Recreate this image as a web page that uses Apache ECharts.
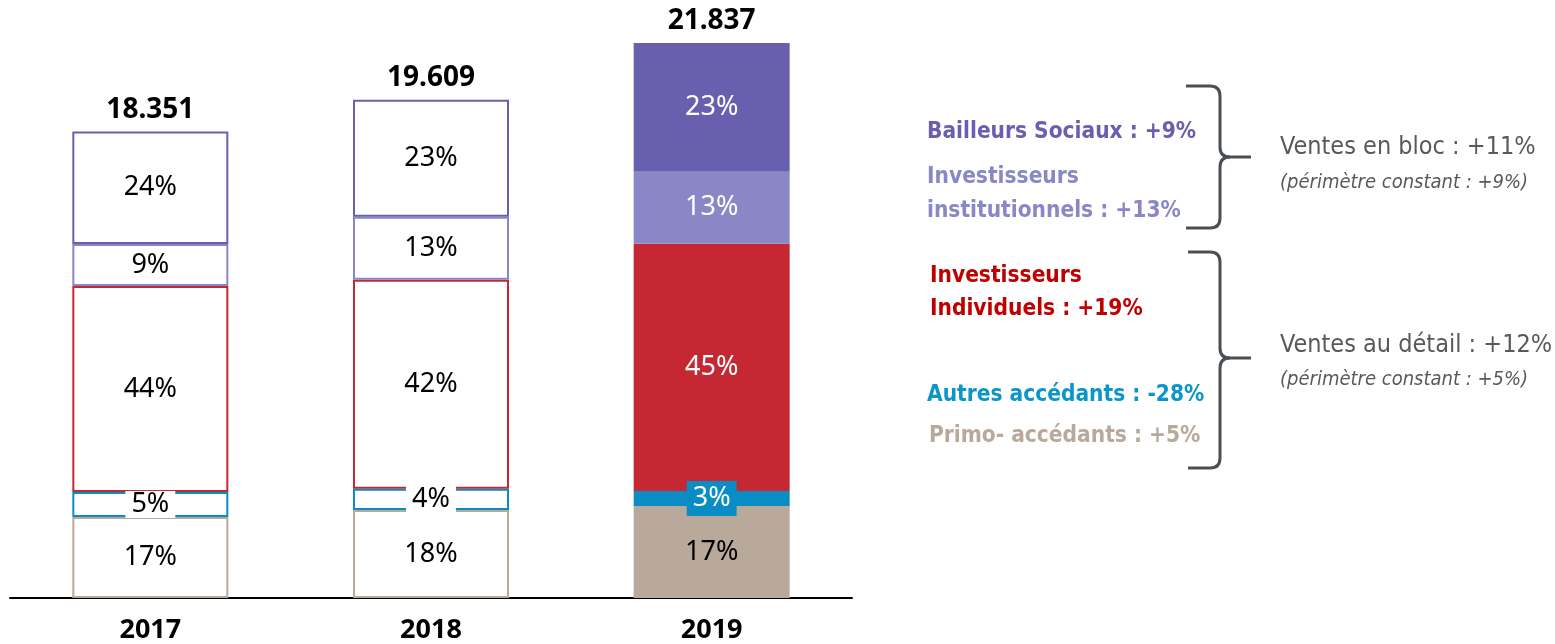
<!DOCTYPE html>
<html>
<head>
<meta charset="utf-8">
<script src="https://cdn.jsdelivr.net/npm/echarts@6/dist/echarts.min.js"></script>
<style>
  html, body { margin: 0; padding: 0; background: #fff; }
  #chart { width: 1555px; height: 644px; }
</style>
</head>
<body>
<div id="chart"></div>
<script>
  // catégories et valeurs (nombre de ventes)
  const years = ['2017', '2018', '2019'];
  const primo = [3190, 3465, 3620];
  const autres = [980, 830, 590];
  const individuels = [8110, 8230, 9725];
  const institutionnels = [1650, 2480, 2835];
  const bailleurs = [4421, 4604, 5067];

  const colors = ['#B8A99A', '#0A8CC4', '#C62833', '#8A87C6', '#6860AE'];
  const labelColors2019 = ['#000', '#fff', '#fff', '#fff', '#fff'];
  const seriesData = [primo, autres, individuels, institutionnels, bailleurs];
  const seriesNames = ['Primo-accédants', 'Autres accédants', 'Investisseurs individuels', 'Investisseurs institutionnels', 'Bailleurs sociaux'];

  const totals = years.map((y, i) => seriesData.reduce((s, arr) => s + arr[i], 0));
  const fmt = n => String(n).replace(/\B(?=(\d{3})+(?!\d))/g, '.');

  const font = '"Noto Sans", sans-serif';
  const narrow = '"Liberation Sans Narrow", "DejaVu Sans Condensed", sans-serif';

  let series = [];
  seriesData.forEach((arr, k) => {
    series.push({
      name: seriesNames[k],
      type: 'bar',
      stack: 'total',
      barWidth: 156,
      data: arr.map((v, i) => {
        let filled = i === 2;
        let item = {
          value: v,
          itemStyle: filled
            ? { color: colors[k], borderWidth: 0 }
            : { color: '#fff', borderColor: colors[k], borderWidth: 2 },
          label: { color: filled ? labelColors2019[k] : '#000' }
        };
        // petits segments : étiquette avec fond
        if (k === 1) {
          item.label.backgroundColor = filled ? colors[k] : '#fff';
          item.label.padding = filled ? [4, 6, 4, 6] : [0, 6, 0, 6];
        }
        return item;
      }),
      label: {
        show: true,
        position: 'inside',
        fontFamily: font,
        fontSize: 27,
        formatter: p => Math.round(p.value / totals[p.dataIndex] * 100) + '%'
      }
    });
  });

  // totaux au-dessus des barres
  series.push({
    type: 'scatter',
    data: totals,
    symbolSize: 0,
    itemStyle: { opacity: 1 },
    label: {
      show: true,
      position: 'top',
      distance: 8,
      fontFamily: font,
      fontWeight: 'bold',
      fontSize: 28,
      color: '#000',
      formatter: p => fmt(p.value)
    }
  });

  function brace(top, bottom, mid, xArm, xV, xTip) {
    const st = { stroke: '#4A4F55', lineWidth: 3, fill: null };
    const r = 10;
    return [
      { type: 'line', shape: { x1: xArm, y1: top, x2: xV - r, y2: top }, style: st },
      { type: 'bezierCurve', shape: { x1: xV - r, y1: top, cpx1: xV, cpy1: top, x2: xV, y2: top + r }, style: st },
      { type: 'line', shape: { x1: xV, y1: top + r, x2: xV, y2: mid - r }, style: st },
      { type: 'bezierCurve', shape: { x1: xV, y1: mid - r, cpx1: xV, cpy1: mid, x2: xV + r, y2: mid }, style: st },
      { type: 'line', shape: { x1: xV + r, y1: mid, x2: xTip, y2: mid }, style: st },
      { type: 'bezierCurve', shape: { x1: xV + r, y1: mid, cpx1: xV, cpy1: mid, x2: xV, y2: mid + r }, style: st },
      { type: 'line', shape: { x1: xV, y1: mid + r, x2: xV, y2: bottom - r }, style: st },
      { type: 'bezierCurve', shape: { x1: xV, y1: bottom - r, cpx1: xV, cpy1: bottom, x2: xV - r, y2: bottom }, style: st },
      { type: 'line', shape: { x1: xV - r, y1: bottom, x2: xArm, y2: bottom }, style: st }
    ];
  }

  function txt(x, y, text, color, size, weight, style) {
    return {
      type: 'text', x: x, y: y,
      style: {
        text: text, fill: color, fontFamily: narrow, fontSize: size,
        fontWeight: weight || 'normal', fontStyle: style || 'normal',
        verticalAlign: 'middle', align: 'left'
      }
    };
  }

  const graphics = [].concat(
    brace(86, 228, 157, 1186, 1220, 1251),
    brace(252, 468, 358, 1188, 1220, 1251),
    [
      txt(927, 132, 'Bailleurs Sociaux : +9%', '#6860AE', 22.5, 'bold'),
      txt(927, 177, 'Investisseurs', '#8A87C6', 22.5, 'bold'),
      txt(927, 211, 'institutionnels : +13%', '#8A87C6', 22.5, 'bold'),
      txt(930, 276, 'Investisseurs', '#C00000', 22.5, 'bold'),
      txt(930, 309, 'Individuels : +19%', '#C00000', 22.5, 'bold'),
      txt(927, 395, 'Autres accédants : -28%', '#0A96C8', 22.5, 'bold'),
      txt(929, 436, 'Primo- accédants : +5%', '#B8A99A', 22.5, 'bold'),
      txt(1280, 147, 'Ventes en bloc : +11%', '#595959', 25),
      txt(1280, 183, '(périmètre constant : +9%)', '#595959', 20, 'normal', 'italic'),
      txt(1280, 345, 'Ventes au détail : +12%', '#595959', 25),
      txt(1280, 380, '(périmètre constant : +5%)', '#595959', 20, 'normal', 'italic')
    ]
  );

  const chart = echarts.init(document.getElementById('chart'));
  chart.setOption({
    animation: false,
    grid: { left: 10, right: 703, top: 43, bottom: 46 },
    xAxis: {
      type: 'category',
      data: years,
      axisLine: { lineStyle: { color: '#000', width: 2 } },
      axisTick: { show: false },
      axisLabel: { color: '#000', fontFamily: font, fontWeight: 'bold', fontSize: 27, margin: 19 }
    },
    yAxis: {
      type: 'value',
      min: 0,
      max: 'dataMax',
      show: false,
      splitLine: { show: false }
    },
    series: series,
    graphic: graphics
  });
  window.addEventListener('resize', function () { chart.resize(); });
</script>
</body>
</html>
